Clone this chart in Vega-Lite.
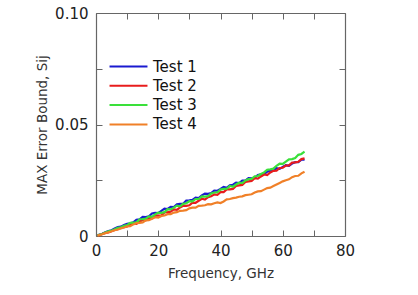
{
  "$schema": "https://vega.github.io/schema/vega-lite/v6.json",
  "width": 249,
  "height": 223,
  "autosize": {"type": "none"},
  "padding": {"left": 96, "top": 13, "right": 73, "bottom": 59},
  "background": "white",
  "config": {
    "view": {"stroke": null},
    "font": "DejaVu Sans",
    "axis": {"grid": false, "labelFlush": false, "domainColor": "#666", "domainWidth": 1.2, "tickColor": "#666", "tickWidth": 1, "labelFont": "DejaVu Sans", "titleFont": "DejaVu Sans", "labelColor": "#222", "titleColor": "#333", "titleFontWeight": "normal"}
  },
  "data": {
    "values": [
      {"f":0.5,"Test 1":0.0002,"Test 2":0.0002,"Test 3":0.0002,"Test 4":0.0002},
      {"f":1,"Test 1":0.0006,"Test 2":0.0003,"Test 3":0.0005,"Test 4":0.0004},
      {"f":2,"Test 1":0.0010,"Test 2":0.0009,"Test 3":0.0009,"Test 4":0.0008},
      {"f":3,"Test 1":0.0017,"Test 2":0.0014,"Test 3":0.0016,"Test 4":0.0013},
      {"f":4,"Test 1":0.0022,"Test 2":0.0016,"Test 3":0.0021,"Test 4":0.0017},
      {"f":5,"Test 1":0.0026,"Test 2":0.0021,"Test 3":0.0024,"Test 4":0.0021},
      {"f":6,"Test 1":0.0034,"Test 2":0.0027,"Test 3":0.0030,"Test 4":0.0026},
      {"f":7,"Test 1":0.0040,"Test 2":0.0031,"Test 3":0.0037,"Test 4":0.0029},
      {"f":8,"Test 1":0.0042,"Test 2":0.0037,"Test 3":0.0039,"Test 4":0.0034},
      {"f":9,"Test 1":0.0049,"Test 2":0.0040,"Test 3":0.0046,"Test 4":0.0038},
      {"f":10,"Test 1":0.0055,"Test 2":0.0043,"Test 3":0.0049,"Test 4":0.0043},
      {"f":11,"Test 1":0.0057,"Test 2":0.0053,"Test 3":0.0059,"Test 4":0.0044},
      {"f":12,"Test 1":0.0061,"Test 2":0.0056,"Test 3":0.0060,"Test 4":0.0052},
      {"f":13,"Test 1":0.0073,"Test 2":0.0054,"Test 3":0.0061,"Test 4":0.0058},
      {"f":14,"Test 1":0.0075,"Test 2":0.0064,"Test 3":0.0075,"Test 4":0.0059},
      {"f":15,"Test 1":0.0086,"Test 2":0.0073,"Test 3":0.0076,"Test 4":0.0061},
      {"f":16,"Test 1":0.0085,"Test 2":0.0070,"Test 3":0.0078,"Test 4":0.0070},
      {"f":17,"Test 1":0.0088,"Test 2":0.0080,"Test 3":0.0088,"Test 4":0.0071},
      {"f":18,"Test 1":0.0101,"Test 2":0.0079,"Test 3":0.0086,"Test 4":0.0077},
      {"f":19,"Test 1":0.0104,"Test 2":0.0091,"Test 3":0.0097,"Test 4":0.0084},
      {"f":20,"Test 1":0.0103,"Test 2":0.0091,"Test 3":0.0105,"Test 4":0.0082},
      {"f":21,"Test 1":0.0113,"Test 2":0.0092,"Test 3":0.0104,"Test 4":0.0090},
      {"f":22,"Test 1":0.0123,"Test 2":0.0106,"Test 3":0.0107,"Test 4":0.0092},
      {"f":23,"Test 1":0.0121,"Test 2":0.0107,"Test 3":0.0120,"Test 4":0.0098},
      {"f":24,"Test 1":0.0131,"Test 2":0.0109,"Test 3":0.0119,"Test 4":0.0098},
      {"f":25,"Test 1":0.0130,"Test 2":0.0119,"Test 3":0.0127,"Test 4":0.0105},
      {"f":26,"Test 1":0.0142,"Test 2":0.0117,"Test 3":0.0136,"Test 4":0.0107},
      {"f":27,"Test 1":0.0144,"Test 2":0.0128,"Test 3":0.0133,"Test 4":0.0113},
      {"f":28,"Test 1":0.0145,"Test 2":0.0136,"Test 3":0.0144,"Test 4":0.0114},
      {"f":29,"Test 1":0.0159,"Test 2":0.0135,"Test 3":0.0147,"Test 4":0.0116},
      {"f":30,"Test 1":0.0160,"Test 2":0.0138,"Test 3":0.0156,"Test 4":0.0124},
      {"f":31,"Test 1":0.0162,"Test 2":0.0150,"Test 3":0.0155,"Test 4":0.0127},
      {"f":32,"Test 1":0.0172,"Test 2":0.0149,"Test 3":0.0166,"Test 4":0.0127},
      {"f":33,"Test 1":0.0170,"Test 2":0.0158,"Test 3":0.0166,"Test 4":0.0135},
      {"f":34,"Test 1":0.0182,"Test 2":0.0167,"Test 3":0.0178,"Test 4":0.0136},
      {"f":35,"Test 1":0.0190,"Test 2":0.0163,"Test 3":0.0177,"Test 4":0.0138},
      {"f":36,"Test 1":0.0189,"Test 2":0.0174,"Test 3":0.0179,"Test 4":0.0143},
      {"f":37,"Test 1":0.0192,"Test 2":0.0178,"Test 3":0.0191,"Test 4":0.0142},
      {"f":38,"Test 1":0.0204,"Test 2":0.0187,"Test 3":0.0195,"Test 4":0.0147},
      {"f":39,"Test 1":0.0203,"Test 2":0.0185,"Test 3":0.0196,"Test 4":0.0151},
      {"f":40,"Test 1":0.0211,"Test 2":0.0197,"Test 3":0.0208,"Test 4":0.0148},
      {"f":41,"Test 1":0.0220,"Test 2":0.0197,"Test 3":0.0211,"Test 4":0.0155},
      {"f":42,"Test 1":0.0216,"Test 2":0.0209,"Test 3":0.0212,"Test 4":0.0164},
      {"f":43,"Test 1":0.0227,"Test 2":0.0209,"Test 3":0.0224,"Test 4":0.0166},
      {"f":44,"Test 1":0.0230,"Test 2":0.0211,"Test 3":0.0221,"Test 4":0.0170},
      {"f":45,"Test 1":0.0239,"Test 2":0.0224,"Test 3":0.0231,"Test 4":0.0172},
      {"f":46,"Test 1":0.0237,"Test 2":0.0227,"Test 3":0.0239,"Test 4":0.0176},
      {"f":47,"Test 1":0.0248,"Test 2":0.0229,"Test 3":0.0237,"Test 4":0.0178},
      {"f":48,"Test 1":0.0248,"Test 2":0.0242,"Test 3":0.0249,"Test 4":0.0183},
      {"f":49,"Test 1":0.0260,"Test 2":0.0245,"Test 3":0.0255,"Test 4":0.0185},
      {"f":50,"Test 1":0.0259,"Test 2":0.0247,"Test 3":0.0256,"Test 4":0.0187},
      {"f":51,"Test 1":0.0261,"Test 2":0.0259,"Test 3":0.0268,"Test 4":0.0195},
      {"f":52,"Test 1":0.0273,"Test 2":0.0257,"Test 3":0.0269,"Test 4":0.0200},
      {"f":53,"Test 1":0.0276,"Test 2":0.0267,"Test 3":0.0278,"Test 4":0.0201},
      {"f":54,"Test 1":0.0277,"Test 2":0.0276,"Test 3":0.0285,"Test 4":0.0208},
      {"f":55,"Test 1":0.0289,"Test 2":0.0273,"Test 3":0.0297,"Test 4":0.0215},
      {"f":56,"Test 1":0.0292,"Test 2":0.0285,"Test 3":0.0299,"Test 4":0.0217},
      {"f":57,"Test 1":0.0292,"Test 2":0.0292,"Test 3":0.0302,"Test 4":0.0224},
      {"f":58,"Test 1":0.0304,"Test 2":0.0293,"Test 3":0.0315,"Test 4":0.0231},
      {"f":59,"Test 1":0.0301,"Test 2":0.0305,"Test 3":0.0324,"Test 4":0.0238},
      {"f":60,"Test 1":0.0310,"Test 2":0.0306,"Test 3":0.0323,"Test 4":0.0245},
      {"f":61,"Test 1":0.0318,"Test 2":0.0316,"Test 3":0.0334,"Test 4":0.0250},
      {"f":62,"Test 1":0.0315,"Test 2":0.0317,"Test 3":0.0344,"Test 4":0.0254},
      {"f":63,"Test 1":0.0325,"Test 2":0.0329,"Test 3":0.0345,"Test 4":0.0264},
      {"f":64,"Test 1":0.0331,"Test 2":0.0330,"Test 3":0.0350,"Test 4":0.0269},
      {"f":65,"Test 1":0.0331,"Test 2":0.0333,"Test 3":0.0364,"Test 4":0.0270},
      {"f":66,"Test 1":0.0342,"Test 2":0.0345,"Test 3":0.0368,"Test 4":0.0281},
      {"f":67,"Test 1":0.0342,"Test 2":0.0348,"Test 3":0.0378,"Test 4":0.0288}
    ]
  },
  "transform": [{"fold": ["Test 1", "Test 2", "Test 3", "Test 4"], "as": ["series", "v"]}],
  "layer": [
    {
      "mark": {"type": "line", "strokeWidth": 2.2},
      "encoding": {
        "x": {"field": "f", "type": "quantitative", "scale": {"domain": [0, 80], "nice": false},
          "axis": {"orient": "bottom", "values": [0,10,20,30,40,50,60,70,80], "labelExpr": "datum.value % 20 == 0 ? datum.label : ''", "tickSize": -6, "labelFontSize": 15, "labelPadding": 13, "title": "Frequency, GHz", "titleFontSize": 13.5, "titlePadding": 8}},
        "y": {"field": "v", "type": "quantitative", "scale": {"domain": [0, 0.1], "nice": false},
          "axis": {"orient": "left", "values": [0,0.025,0.05,0.075,0.1], "format": ".2f", "labelExpr": "datum.label == '0.00' ? '0' : (datum.label == '0.05' || datum.label == '0.10') ? datum.label : ''", "tickSize": -6, "labelFontSize": 15, "labelPadding": 14, "title": "MAX Error Bound, Sij", "titleFontSize": 13.5, "titlePadding": 5}},
        "color": {"field": "series", "type": "nominal",
          "scale": {"domain": ["Test 1", "Test 2", "Test 3", "Test 4"], "range": ["#1a1ad0", "#e81c1c", "#3ae03a", "#f08028"]},
          "legend": {"orient": "none", "legendX": 25, "legendY": 46, "title": null, "symbolType": "M-4,0H4", "symbolSize": 90, "symbolStrokeWidth": 2, "labelFontSize": 15, "labelFont": "DejaVu Sans", "labelColor": "#111", "labelOffset": 17, "padding": 0, "rowPadding": 3.3}}
      }
    },
    {
      "mark": {"type": "point", "opacity": 0},
      "encoding": {
        "x": {"field": "f", "type": "quantitative", "scale": {"domain": [0, 80], "nice": false},
          "axis": {"orient": "top", "values": [0,10,20,30,40,50,60,70,80], "labels": false, "tickSize": -6, "title": null}},
        "y": {"field": "v", "type": "quantitative", "scale": {"domain": [0, 0.1], "nice": false},
          "axis": {"orient": "right", "values": [0,0.025,0.05,0.075,0.1], "labels": false, "tickSize": -6, "title": null}}
      }
    }
  ],
  "resolve": {"axis": {"x": "independent", "y": "independent"}}
}
